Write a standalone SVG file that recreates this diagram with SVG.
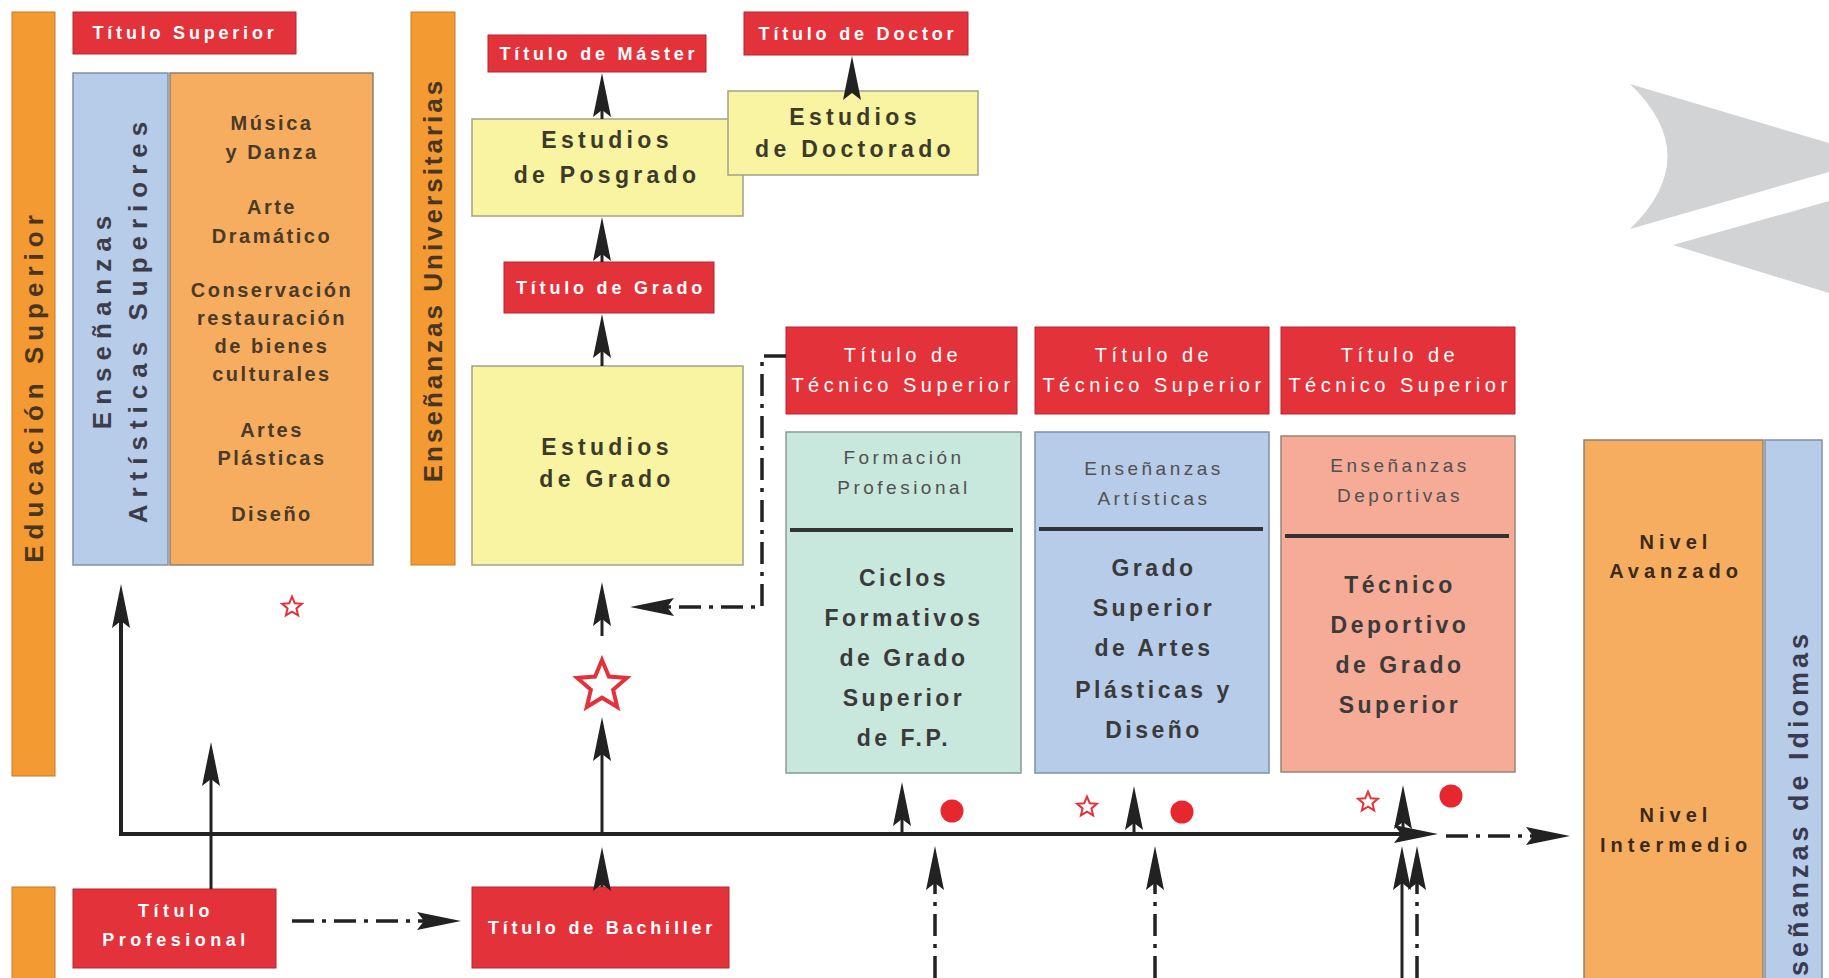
<svg xmlns="http://www.w3.org/2000/svg" width="1829" height="978" viewBox="0 0 1829 978">
<style>
text{font-family:"Liberation Sans",Arial,sans-serif}
.red{fill:#e4323b;stroke:#b8262e;stroke-width:1}
.tw{fill:#fff;font-weight:bold;font-size:18px;letter-spacing:3.8px;text-anchor:middle}
.tn{fill:#fff;font-size:20px;letter-spacing:4.5px;text-anchor:middle}
.bar{fill:#f39a33;stroke:#c77a22;stroke-width:1}
.barT{fill:#4a3520;font-weight:bold;font-size:26px;text-anchor:middle}
.yel{fill:#f8f4a2;stroke:#a3a08a;stroke-width:1.5}
.yt{fill:#3d3a2a;font-weight:bold;font-size:23px;letter-spacing:4.3px;text-anchor:middle}
.or{fill:#f7ad60;stroke:#8e8070;stroke-width:1.5}
.ot{fill:#4a3a28;font-weight:bold;font-size:20px;letter-spacing:2.5px;text-anchor:middle}
.bl{fill:#b7cce9;stroke:#8090a8;stroke-width:1.5}
.gr{fill:#c8e8dd;stroke:#8a9a94;stroke-width:1.5}
.sa{fill:#f5ab96;stroke:#9a8478;stroke-width:1.5}
.ht{fill:#505050;font-size:19px;letter-spacing:3.5px;text-anchor:middle}
.bt{fill:#3a3a3a;font-weight:bold;font-size:23px;letter-spacing:3.5px;text-anchor:middle}
.nt{fill:#3a2a1a;font-weight:bold;font-size:20px;letter-spacing:5px;text-anchor:middle}
.div{stroke:#333;stroke-width:4}
.ln{fill:none;stroke:#222;stroke-width:3}
.mln{fill:none;stroke:#222;stroke-width:4}
.dd{fill:none;stroke:#222;stroke-width:3.5;stroke-dasharray:22 8 4 8}
.star{fill:#fff;stroke:#e4323b;stroke-linejoin:miter}
.dot{fill:#e8262e}
.chev{fill:#d1d3d4}
</style>
<defs>
<marker id="ah" viewBox="0 0 44 18" refX="32" refY="9" markerWidth="44" markerHeight="18" markerUnits="userSpaceOnUse" orient="auto">
<path d="M0,0 L44,9 L0,18 L7,9 Z" fill="#222"/>
</marker>
<path id="starP" d="M0,-26 L6.88,-9.47 L24.73,-8.03 L11.13,3.62 L15.28,21.03 L0,11.7 L-15.28,21.03 L-11.13,3.62 L-24.73,-8.03 L-6.88,-9.47 Z"/>
</defs>
<rect width="1829" height="978" fill="#fff"/>

<g id="decor">
<path class="chev" d="M1630,84 L1829,143 L1829,172 L1630,229 Q1705,156 1630,84 Z"/>
<path class="chev" d="M1673,245 L1829,201 L1829,293 Z"/>
</g>

<g id="educacion-superior">
<rect class="bar" x="12" y="12" width="43" height="764"/>
<text class="barT" style="letter-spacing:6px" transform="translate(43,386) rotate(-90)">Educación Superior</text>
</g>
<g id="educacion-secundaria">
<rect class="bar" x="12" y="887" width="43" height="95"/>
</g>

<g id="titulo-superior">
<rect class="red" x="73" y="12" width="223" height="42"/>
<text class="tw" x="185" y="39">Título Superior</text>
</g>

<g id="ensenanzas-artisticas-superiores">
<rect class="bl" x="73" y="73" width="95" height="492"/>
<text class="barT" style="fill:#3d3d4a;letter-spacing:7px" transform="translate(111,319) rotate(-90)">Enseñanzas</text>
<text class="barT" style="fill:#3d3d4a;letter-spacing:7px" transform="translate(147,319) rotate(-90)">Artísticas Superiores</text>
</g>

<g id="artes-superiores">
<rect class="or" x="170" y="73" width="203" height="492"/>
<text class="ot" x="272" y="130">Música</text>
<text class="ot" x="272" y="159">y Danza</text>
<text class="ot" x="272" y="214">Arte</text>
<text class="ot" x="272" y="243">Dramático</text>
<text class="ot" x="272" y="297">Conservación</text>
<text class="ot" x="272" y="325">restauración</text>
<text class="ot" x="272" y="353">de bienes</text>
<text class="ot" x="272" y="381">culturales</text>
<text class="ot" x="272" y="437">Artes</text>
<text class="ot" x="272" y="465">Plásticas</text>
<text class="ot" x="272" y="521">Diseño</text>
</g>

<g id="ensenanzas-universitarias">
<rect class="bar" x="411" y="12" width="44" height="553"/>
<text class="barT" style="letter-spacing:3px" transform="translate(442,280) rotate(-90)">Enseñanzas Universitarias</text>
</g>

<g id="estudios-posgrado">
<rect class="yel" x="472" y="119" width="271" height="97"/>
<text class="yt" x="607" y="148">Estudios</text>
<text class="yt" x="607" y="183">de Posgrado</text>
</g>
<g id="estudios-doctorado">
<rect class="yel" x="728" y="91" width="250" height="84"/>
<text class="yt" x="855" y="125">Estudios</text>
<text class="yt" x="855" y="157">de Doctorado</text>
</g>

<g id="titulo-master">
<rect class="red" x="488" y="35" width="218" height="37"/>
<text class="tw" x="599" y="60">Título de Máster</text>
</g>
<g id="titulo-doctor">
<rect class="red" x="744" y="12" width="224" height="43"/>
<text class="tw" x="858" y="40">Título de Doctor</text>
</g>
<g id="titulo-grado">
<rect class="red" x="504" y="262" width="210" height="51"/>
<text class="tw" x="611" y="294">Título de Grado</text>
</g>
<g id="estudios-grado">
<rect class="yel" x="472" y="366" width="271" height="199"/>
<text class="yt" x="607" y="455">Estudios</text>
<text class="yt" x="607" y="487">de Grado</text>
</g>

<g id="titulo-tecnico-fp">
<rect class="red" x="786" y="327" width="231" height="87"/>
<text class="tn" x="903" y="362">Título de</text>
<text class="tn" x="903" y="392">Técnico Superior</text>
</g>
<g id="titulo-tecnico-art">
<rect class="red" x="1035" y="327" width="234" height="87"/>
<text class="tn" x="1154" y="362">Título de</text>
<text class="tn" x="1154" y="392">Técnico Superior</text>
</g>
<g id="titulo-tecnico-dep">
<rect class="red" x="1281" y="327" width="234" height="87"/>
<text class="tn" x="1400" y="362">Título de</text>
<text class="tn" x="1400" y="392">Técnico Superior</text>
</g>

<g id="formacion-profesional">
<rect class="gr" x="786" y="432" width="235" height="341"/>
<text class="ht" x="904" y="464">Formación</text>
<text class="ht" x="904" y="494">Profesional</text>
<line class="div" x1="790" y1="530" x2="1013" y2="530"/>
<text class="bt" x="904" y="586">Ciclos</text>
<text class="bt" x="904" y="626">Formativos</text>
<text class="bt" x="904" y="666">de Grado</text>
<text class="bt" x="904" y="706">Superior</text>
<text class="bt" x="904" y="746">de F.P.</text>
</g>
<g id="ensenanzas-artisticas">
<rect class="bl" x="1035" y="432" width="234" height="341"/>
<text class="ht" x="1154" y="475">Enseñanzas</text>
<text class="ht" x="1154" y="505">Artísticas</text>
<line class="div" x1="1039" y1="529" x2="1263" y2="529"/>
<text class="bt" x="1154" y="576">Grado</text>
<text class="bt" x="1154" y="616">Superior</text>
<text class="bt" x="1154" y="656">de Artes</text>
<text class="bt" x="1154" y="698">Plásticas y</text>
<text class="bt" x="1154" y="738">Diseño</text>
</g>
<g id="ensenanzas-deportivas">
<rect class="sa" x="1281" y="436" width="234" height="336"/>
<text class="ht" x="1400" y="472">Enseñanzas</text>
<text class="ht" x="1400" y="502">Deportivas</text>
<line class="div" x1="1285" y1="536" x2="1509" y2="536"/>
<text class="bt" x="1400" y="593">Técnico</text>
<text class="bt" x="1400" y="633">Deportivo</text>
<text class="bt" x="1400" y="673">de Grado</text>
<text class="bt" x="1400" y="713">Superior</text>
</g>

<g id="niveles-idiomas">
<rect class="or" x="1584" y="440" width="179" height="545"/>
<text class="nt" x="1676" y="549">Nivel</text>
<text class="nt" x="1676" y="578">Avanzado</text>
<text class="nt" x="1676" y="822">Nivel</text>
<text class="nt" x="1676" y="852">Intermedio</text>
</g>
<g id="ensenanzas-idiomas">
<rect class="bl" x="1765" y="440" width="57" height="545"/>
<text class="barT" style="fill:#3a3a50;font-size:27px;letter-spacing:4px;text-anchor:end" transform="translate(1808,630) rotate(-90)">Enseñanzas de Idiomas</text>
</g>

<g id="titulo-profesional">
<rect class="red" x="73" y="889" width="203" height="79"/>
<text class="tw" style="letter-spacing:4.5px" x="176" y="917">Título</text>
<text class="tw" style="letter-spacing:4.5px" x="176" y="946">Profesional</text>
</g>
<g id="titulo-bachiller">
<rect class="red" x="472" y="887" width="257" height="81"/>
<text class="tw" x="602" y="934">Título de Bachiller</text>
</g>

<g id="marks">
<use href="#starP" class="star" transform="translate(292,607) scale(0.4)" stroke-width="5"/>
<use href="#starP" class="star" transform="translate(602,686)" stroke-width="4"/>
<use href="#starP" class="star" transform="translate(1087,807) scale(0.4)" stroke-width="5"/>
<use href="#starP" class="star" transform="translate(1368,802) scale(0.4)" stroke-width="5"/>
<circle class="dot" cx="952" cy="811" r="11.5"/>
<circle class="dot" cx="1182" cy="812" r="11.5"/>
<circle class="dot" cx="1451" cy="796" r="11.5"/>
</g>

<g id="connectors">
<line class="ln" x1="602" y1="119" x2="602" y2="85" marker-end="url(#ah)"/>
<line class="ln" x1="852" y1="91" x2="852" y2="68" marker-end="url(#ah)"/>
<line class="ln" x1="602" y1="262" x2="602" y2="229" marker-end="url(#ah)"/>
<line class="ln" x1="602" y1="366" x2="602" y2="326" marker-end="url(#ah)"/>
<path class="dd" d="M786,356 L762,356 L762,607 L642,607" marker-end="url(#ah)"/>
<line class="ln" x1="602" y1="636" x2="602" y2="594" marker-end="url(#ah)"/>
<line class="ln" x1="602" y1="834" x2="602" y2="729" marker-end="url(#ah)"/>
<line class="mln" x1="121" y1="834" x2="121" y2="596" marker-end="url(#ah)"/>
<line class="mln" x1="119" y1="834" x2="1426" y2="834" marker-end="url(#ah)"/>
<line class="ln" x1="211" y1="889" x2="211" y2="754" marker-end="url(#ah)"/>
<line class="ln" x1="602" y1="887" x2="602" y2="859" marker-end="url(#ah)"/>
<line class="dd" x1="292" y1="921" x2="449" y2="921" marker-end="url(#ah)"/>
<line class="ln" x1="902" y1="834" x2="902" y2="794" marker-end="url(#ah)"/>
<line class="ln" x1="1134" y1="834" x2="1134" y2="798" marker-end="url(#ah)"/>
<line class="ln" x1="1403" y1="834" x2="1403" y2="797" marker-end="url(#ah)"/>
<line class="dd" x1="935" y1="978" x2="935" y2="858" marker-end="url(#ah)"/>
<line class="dd" x1="1155" y1="978" x2="1155" y2="858" marker-end="url(#ah)"/>
<line class="ln" x1="1402" y1="978" x2="1402" y2="858" marker-end="url(#ah)"/>
<line class="dd" x1="1417" y1="978" x2="1417" y2="858" marker-end="url(#ah)"/>
<line class="dd" x1="1446" y1="836" x2="1558" y2="836" marker-end="url(#ah)"/>
</g>
</svg>
